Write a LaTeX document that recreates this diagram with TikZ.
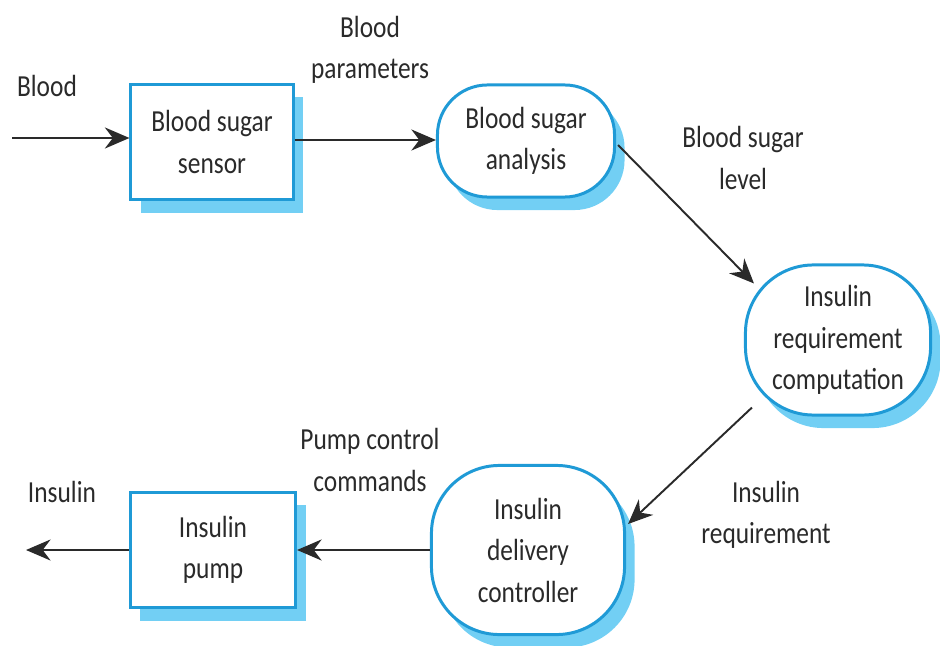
\documentclass[tikz,border=0pt]{standalone}
\usepackage{fontspec}
\setmainfont[FakeStretch=0.83]{Carlito}
\usetikzlibrary{shadows,calc,arrows.meta}

\definecolor{edgeblue}{HTML}{1F9AD6}
\definecolor{shadeblue}{HTML}{72CFF4}
\definecolor{inkgray}{HTML}{2A2A2A}

\tikzset{
  txt/.style={font=\fontsize{8.7}{11.8}\selectfont, text=inkgray, align=center},
  blockshade/.style={drop shadow={shadow xshift=0.1cm, shadow yshift=-0.13cm, fill=shadeblue, opacity=1}},
  unitbox/.style={txt, draw=edgeblue, line width=0.85pt, fill=white, blockshade,
    inner sep=0pt},
  procbox/.style={unitbox, rounded corners=#1},
  flow/.style={draw=inkgray, line width=0.55pt, -{Stealth[length=7pt, width=6pt]}},
  lbl/.style={txt}
}

\begin{document}
\begin{tikzpicture}[x=0.01cm, y=-0.01cm]
  \useasboundingbox (0,0) rectangle (940,646);

  % processing units
  \node[unitbox, minimum width=1.62cm, minimum height=1.15cm] (sensor) at (212,142) {Blood sugar\\sensor};
  \node[procbox=0.5cm, minimum width=1.77cm, minimum height=1.12cm] (analysis) at (526,141) {Blood sugar\\analysis};
  \node[procbox=0.68cm, minimum width=1.85cm, minimum height=1.50cm] (compute) at (838,340) {Insulin\\requirement\\computation};
  \node[procbox=0.68cm, minimum width=1.93cm, minimum height=1.69cm] (deliver) at (528,550) {Insulin\\delivery\\controller};
  \node[unitbox, minimum width=1.65cm, minimum height=1.15cm] (pump) at (213,550) {Insulin\\pump};

  % free ends of the outer flows
  \coordinate (bloodin) at (12,138);
  \coordinate (insout) at (26,550);

  % flows
  \draw[flow] (bloodin) -- (sensor.west |- bloodin);
  \draw[flow] (sensor.east |- 0,140) -- (analysis.west |- 0,140);
  \draw[flow] ($(analysis.east)+(2,4)$) -- ($(compute.north west)+(10,20)$);
  \draw[flow] ($(compute.south west)+(8,-9)$) -- ($(deliver.east)+(2,-26)$);
  \draw[flow] (deliver.west) -- (pump.east);
  \draw[flow] (pump.west) -- (insout);

  % flow labels
  \node[lbl] (lblood) at (47,86) {Blood};
  \node[lbl] (lparam) at (370,50) {Blood\\parameters};
  \node[lbl] (llevel) at (743,158) {Blood sugar\\level};
  \node[lbl] (lreq) at (766,515) {Insulin\\requirement};
  \node[lbl] (lcmd) at (370,460) {Pump control\\commands};
  \node[lbl] (linsulin) at (62,492) {Insulin};
\end{tikzpicture}
\end{document}
